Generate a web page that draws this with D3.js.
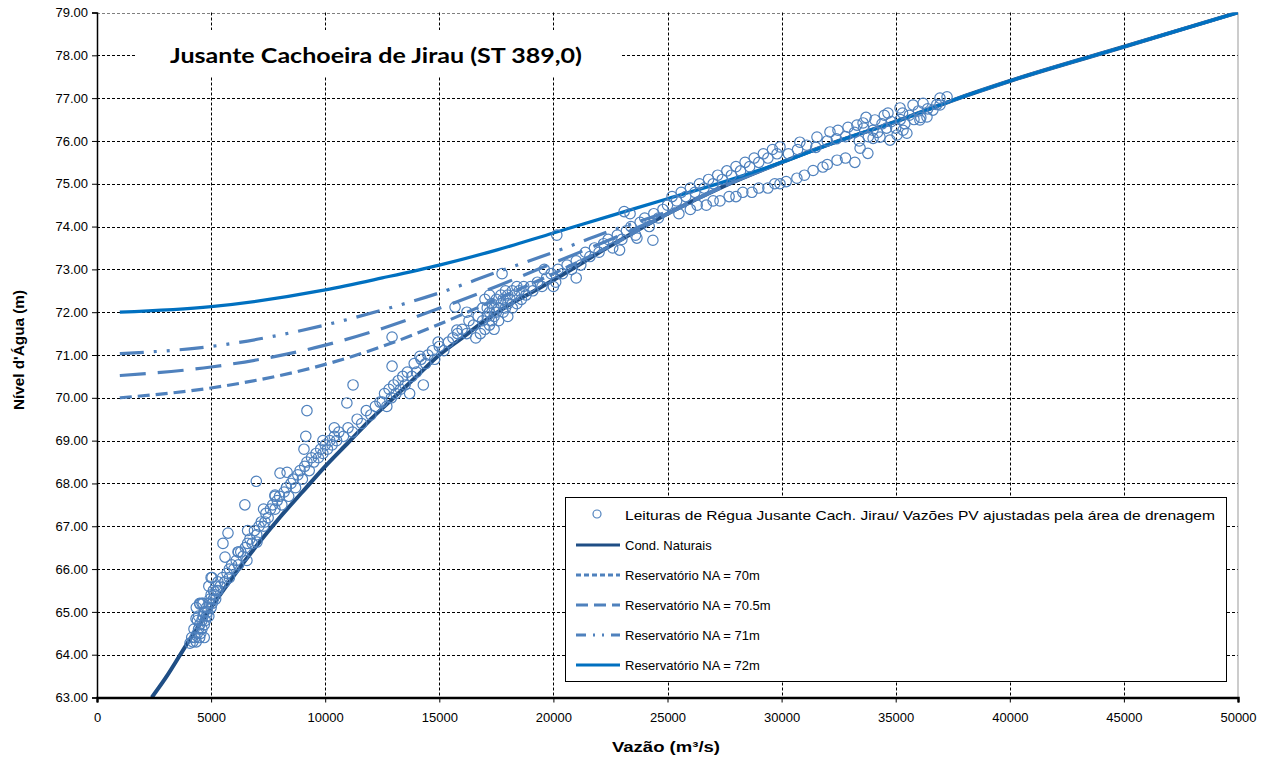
<!DOCTYPE html>
<html>
<head>
<meta charset="utf-8">
<script src="https://cdn.jsdelivr.net/npm/d3@7"></script>
<style>
  html, body { margin: 0; padding: 0; background: #fff; }
  svg { display: block; }
  text { font-family: "Liberation Sans", Arial, sans-serif; }
</style>
</head>
<body>
<svg id="chart" width="1276" height="764"></svg>
<script>
// ---- Data ---------------------------------------------------------------
const xTicks = [0, 5000, 10000, 15000, 20000, 25000, 30000, 35000, 40000, 45000, 50000];
const yTicks = [63, 64, 65, 66, 67, 68, 69, 70, 71, 72, 73, 74, 75, 76, 77, 78, 79];

// Natural stage-discharge curve (vazão m³/s, nível m)
const naturalQ     = [2400, 3000, 4000, 5000, 6000, 7000, 8000, 9000, 10000, 11000, 12000, 13000, 14000, 15000, 16000, 17000, 18000, 19000, 20000, 22500, 25000, 27500, 30000, 32500, 35000, 37500, 40000, 45000, 50000];
const naturalLevel = [63.0, 63.45, 64.3, 65.1, 65.85, 66.55, 67.2, 67.8, 68.4, 68.95, 69.5, 70.0, 70.5, 71.0, 71.4, 71.8, 72.15, 72.45, 72.75, 73.55, 74.3, 74.95, 75.5, 76.0, 76.45, 76.95, 77.4, 78.2, 79.0];

// Backwater curves for each reservoir level, until they join the natural curve
const na70Q      = [1000, 5000, 10000, 12500, 15000, 17500, 20000, 22500];
const na70Level  = [70.0, 70.23, 70.78, 71.2, 71.72, 72.3, 72.9, 73.55];
const na705Q     = [1000, 5000, 10000, 12500, 15000, 17500, 20000, 22500, 25000];
const na705Level = [70.52, 70.72, 71.23, 71.62, 72.09, 72.6, 73.15, 73.7, 74.3];
const na71Q      = [1000, 5000, 10000, 12500, 15000, 17500, 20000, 22500, 25000, 27500];
const na71Level  = [71.03, 71.2, 71.7, 72.05, 72.45, 72.93, 73.4, 73.9, 74.35, 74.95];
const na72Q      = [1000, 5000, 10000, 12500, 15000, 17500, 20000, 22500, 25000, 27500, 30000];
const na72Level  = [72.0, 72.13, 72.52, 72.8, 73.1, 73.45, 73.85, 74.25, 74.65, 75.05, 75.5];

// Gauge readings downstream of Jirau falls [vazão, nível]
const leituras = [
  [4200,64.3],[4300,64.4],[4350,64.3],[4400,64.5],[4450,64.6],[4500,64.4],[4500,64.7],[4550,64.5],[4600,64.8],[4600,64.6],
  [4650,64.9],[4700,64.7],[4700,65.0],[4750,64.8],[4800,65.1],[4800,64.9],[4850,65.0],[4900,65.2],[4900,64.9],[4950,65.3],
  [5000,65.1],[5000,65.4],[5050,65.2],[5100,65.5],[5100,65.3],[5150,65.4],[5200,65.6],[5200,65.3],[5250,65.5],[5300,65.7],
  [4450,64.9],[4350,65.1],[4500,65.2],[4600,65.2],[5000,65.8],[4400,64.8],[4250,64.6],[4150,64.4],[4700,64.4],[4900,65.6],
  [4075,64.27],[4340,64.84],[4510,65.18],[4650,65.2],[5040,65.8],
  [5300,65.5],[5400,65.6],[5500,65.8],[5600,65.7],[5700,65.9],[5800,66.0],[5800,65.8],[5900,66.1],[6000,66.0],[6100,66.2],
  [6200,66.1],[6300,66.4],[6400,66.3],[6500,66.5],[6600,66.6],[6700,66.7],[6800,66.6],[6900,66.9],[7000,66.8],[7100,67.0],
  [7200,67.1],[7300,67.0],[7400,67.3],[7500,67.2],[7600,67.4],[7700,67.5],[7800,67.4],[7900,67.6],[8000,67.7],[8100,67.5],
  [8200,67.8],[8300,67.9],[8400,67.7],[8500,68.0],[8600,68.1],[8700,67.9],[8800,68.2],[8900,68.3],[9000,68.1],[6200,66.4],
  [6600,66.9],[7300,67.4],[7800,67.7],[5610,66.28],[6180,66.4],[5520,66.6],[5740,66.84],[6480,67.5],[6980,68.05],[8020,68.24],
  [8330,68.26],[7800,67.73],[7360,67.1],[7010,66.63],[6570,66.2],
  [9100,68.4],[9200,68.5],[9300,68.3],[9400,68.6],[9500,68.5],[9600,68.7],[9700,68.6],[9800,68.8],[9900,68.7],[10000,68.9],
  [10100,68.8],[10200,69.0],[10300,68.9],[10400,69.1],[10500,69.0],[10600,69.2],[10800,69.1],[11000,69.3],[11200,69.2],[11400,69.5],
  [11600,69.4],[11800,69.7],[12000,69.6],[12200,69.8],[12400,69.9],[9200,69.7],[9070,68.8],[9150,69.1],[10950,69.88],[11220,70.3],
  [9900,69.0],[10400,69.3],
  [12500,69.9],[12600,70.1],[12700,69.8],[12800,70.2],[12900,70.0],[13000,70.3],[13100,70.1],[13200,70.4],[13300,70.2],[13400,70.5],
  [13500,70.3],[13600,70.6],[13800,70.5],[13900,70.8],[14000,70.6],[14200,70.9],[14400,70.8],[14500,71.0],[14700,71.1],[14800,70.9],
  [15000,71.2],[15200,71.1],[15400,71.3],[15600,71.4],[15800,71.5],[16000,71.6],[16200,71.5],[16300,71.8],[16500,71.7],[16700,71.9],
  [16900,71.8],[12930,71.42],[14150,70.97],[12930,70.74],[15690,72.12],[15770,71.58],[16210,72.0],[14950,71.3],[13700,70.1],[14300,70.3],
  [17000,71.6],[17100,71.9],[17100,72.1],[17200,71.7],[17200,72.0],[17300,71.8],[17300,72.2],[17400,71.9],[17400,72.1],[17500,72.0],
  [17500,72.3],[17600,71.8],[17600,72.1],[17700,72.2],[17700,72.4],[17800,72.0],[17800,72.3],[17900,72.1],[17900,72.5],[18000,72.2],
  [18000,72.4],[18100,72.3],[18200,72.1],[18200,72.5],[18300,72.4],[18400,72.2],[18400,72.6],[18500,72.5],[18600,72.3],[18700,72.6],
  [16800,71.5],[16900,72.1],[17000,72.3],[17200,72.4],[16600,71.4],[17750,72.9],[18000,71.9],[17400,71.6],[18800,72.4],[19000,72.6],
  [19100,72.5],[19300,72.7],[19500,72.6],[19700,72.8],[19900,72.9],[20100,72.7],[20200,73.0],[20400,72.9],[20600,73.1],[20800,73.0],
  [21000,73.2],[21200,73.1],[21400,73.4],[21600,73.3],[21800,73.5],[22000,73.4],[22200,73.6],[22400,73.7],[22600,73.5],[22800,73.8],
  [23000,73.7],[23200,73.9],[23400,74.0],[23600,73.8],[23800,74.1],[24000,74.2],[24200,74.0],[24400,74.3],[24600,74.2],[24800,74.4],
  [20150,73.8],[23360,74.3],[24360,73.68],[23660,73.73],[22900,73.45],[21000,72.8],[20000,72.6],[23100,74.35],[19600,73.0],
  [25000,74.5],[25200,74.7],[25400,74.6],[25600,74.8],[25800,74.7],[26000,74.9],[26200,74.8],[26400,75.0],[26600,74.9],[26800,75.1],
  [27000,75.0],[27200,75.2],[27400,75.1],[27600,75.3],[27800,75.2],[28000,75.4],[28200,75.3],[28400,75.5],[28600,75.4],[28800,75.6],
  [29000,75.5],[29200,75.7],[29400,75.6],[29600,75.8],[29800,75.7],
  [25500,74.3],[26000,74.4],[26300,74.5],[26700,74.5],[27000,74.6],[27300,74.6],[27700,74.7],[28000,74.7],[28300,74.8],[28700,74.8],
  [29000,74.9],[29400,74.9],[29700,75.0],
  [29930,75.86],[30800,75.97],[31550,76.09],[32120,76.21],[32470,76.25],[32910,76.32],[33300,76.37],[33570,76.42],[34090,76.49],[34660,76.65],
  [35190,76.77],[35760,76.84],[36200,76.88],[36940,77.0],[37250,77.03],
  [30300,75.7],[30700,75.8],[31100,75.9],[31500,75.85],[32000,76.0],[32400,76.05],[32800,76.1],[33200,76.2],[33600,76.3],[34000,76.25],
  [34400,76.4],[34800,76.45],[35200,76.5],[35600,76.6],[36000,76.7],[36400,76.75],[36800,76.85],[33400,76.0],[33800,76.1],[34200,76.2],
  [34600,76.3],[35000,76.3],[35400,76.4],[35800,76.5],[34500,76.6],[35300,76.65],[36100,76.55],[33700,76.55],
  [29930,75.0],[30670,75.13],[31380,75.31],[31810,75.39],[32430,75.55],[33210,75.5],[33440,75.83],[33780,75.71],[34010,76.06],[34310,76.09],
  [34750,76.02],[35060,76.14],[35320,76.25],[35490,76.18],[36060,76.49],[36370,76.56],[36630,76.72],[36940,76.84],[30200,75.05],[31000,75.2],
  [32000,75.45],[32800,75.6]
];

const legendLabels = [
  "Leituras de Régua  Jusante Cach. Jirau/ Vazões PV ajustadas pela área de drenagem",
  "Cond. Naturais",
  "Reservatório NA = 70m",
  "Reservatório NA = 70.5m",
  "Reservatório NA = 71m",
  "Reservatório NA = 72m"
];

// ---- Layout -------------------------------------------------------------
const svg = d3.select("#chart");
const plot = { left: 97, right: 1238, top: 12.5, bottom: 697.5 };

const x = d3.scaleLinear().domain([0, 50000]).range([plot.left, plot.right]);
const y = d3.scaleLinear().domain([63, 79]).range([plot.bottom, plot.top]);

const cNatural = "#1F4E85";
const cRes = "#4F81BD";
const cRes72 = "#0070C0";

// grid
const grid = svg.append("g");
grid.selectAll("line.h").data(yTicks.filter(v => v > 63)).join("line")
  .attr("x1", plot.left).attr("x2", plot.right)
  .attr("y1", d => Math.round(y(d)) + 0.5).attr("y2", d => Math.round(y(d)) + 0.5)
  .attr("stroke", d => d === 79 ? "#808080" : "#000")
  .attr("stroke-width", 1).attr("stroke-dasharray", "3,2");
grid.selectAll("line.v").data(xTicks.filter(v => v > 0 && v < 50000)).join("line")
  .attr("y1", plot.top).attr("y2", plot.bottom)
  .attr("x1", d => Math.round(x(d)) + 0.5).attr("x2", d => Math.round(x(d)) + 0.5)
  .attr("stroke", "#000").attr("stroke-width", 1).attr("stroke-dasharray", "3,2");
grid.append("line")
  .attr("x1", plot.right).attr("x2", plot.right).attr("y1", plot.top).attr("y2", plot.bottom)
  .attr("stroke", "#999").attr("stroke-width", 1);

// title box
svg.append("rect").attr("x", 135).attr("y", 30).attr("width", 487).attr("height", 47).attr("fill", "#fff");
svg.append("text").attr("x", 376).attr("y", 63)
  .attr("text-anchor", "middle")
  .style("font-family", "Lato, 'Open Sans', sans-serif")
  .style("font-weight", "bold").style("font-size", "21px")
  .attr("textLength", 412).attr("lengthAdjust", "spacingAndGlyphs")
  .text("Jusante Cachoeira de Jirau (ST 389,0)");

// clip
svg.append("clipPath").attr("id", "plotClip").append("rect")
  .attr("x", plot.left).attr("y", plot.top)
  .attr("width", plot.right - plot.left).attr("height", plot.bottom - plot.top);

const line = d3.line().x(d => x(d[0])).y(d => y(d[1])).curve(d3.curveMonotoneX);

const naturalPts = naturalQ.map((q, i) => [q, naturalLevel[i]]);
function withNatural(qs, levels) {
  const pts = qs.map((q, i) => [q, levels[i]]);
  const last = qs[qs.length - 1];
  return pts.concat(naturalPts.filter(p => p[0] > last));
}

const series = [
  { pts: naturalPts, color: cNatural, width: 4, dash: null },
  { pts: withNatural(na70Q, na70Level), color: cRes, width: 3.2, dash: "12,6" },
  { pts: withNatural(na705Q, na705Level), color: cRes, width: 3.2, dash: "26,12" },
  { pts: withNatural(na71Q, na71Level), color: cRes, width: 3.2, dash: "24,10,3,10,3,10" },
  { pts: withNatural(na72Q, na72Level), color: cRes72, width: 3.2, dash: null }
];

const lines = svg.append("g").attr("clip-path", "url(#plotClip)");
lines.selectAll("path").data(series).join("path")
  .attr("d", d => line(d.pts))
  .attr("fill", "none")
  .attr("stroke", d => d.color)
  .attr("stroke-width", d => d.width)
  .attr("stroke-dasharray", d => d.dash)
  .attr("stroke-linecap", "butt");

// readings
svg.append("g").attr("clip-path", "url(#plotClip)")
  .selectAll("circle").data(leituras).join("circle")
  .attr("cx", d => x(d[0])).attr("cy", d => y(d[1])).attr("r", 5.2)
  .attr("fill", "none").attr("stroke", cRes).attr("stroke-width", 1.2);

// axes
const yAxis = d3.axisLeft(y).tickValues(yTicks).tickSize(5).tickFormat(d3.format(".2f"));
const gy = svg.append("g").attr("transform", `translate(${plot.left},0)`).call(yAxis);
gy.attr("font-family", null);
gy.select(".domain").attr("stroke", "#000").attr("stroke-width", 1.5);
gy.selectAll(".tick text").style("font-size", "13px").attr("fill", "#000").attr("x", -9);

const xAxis = d3.axisBottom(x).tickValues(xTicks).tickSize(5).tickFormat(d3.format("d"));
const gx = svg.append("g").attr("transform", `translate(0,${plot.bottom})`).call(xAxis);
gx.attr("font-family", null);
gx.select(".domain").attr("stroke", "#000").attr("stroke-width", 2.5);
gx.selectAll(".tick text").style("font-size", "13px").attr("fill", "#000").attr("y", 15);

// axis titles
svg.append("text").attr("transform", "translate(24,350) rotate(-90)")
  .attr("text-anchor", "middle").style("font-weight", "bold").style("font-size", "14px")
  .attr("textLength", 120).attr("lengthAdjust", "spacingAndGlyphs")
  .text("Nível d'Água (m)");
svg.append("text").attr("x", 666).attr("y", 752)
  .attr("text-anchor", "middle").style("font-weight", "bold").style("font-size", "14px")
  .attr("textLength", 108).attr("lengthAdjust", "spacingAndGlyphs")
  .text("Vazão (m³/s)");

// legend
const lg = svg.append("g");
lg.append("rect").attr("x", 565.5).attr("y", 497.5).attr("width", 661).attr("height", 184)
  .attr("fill", "#fff").attr("stroke", "#000").attr("stroke-width", 1);
const legendKeys = [
  { type: "circle" },
  { color: cNatural, width: 3, dash: null },
  { color: cRes, width: 3, dash: "5,3" },
  { color: cRes, width: 3, dash: "12,6" },
  { color: cRes, width: 3, dash: "10,7,2,7,2,7" },
  { color: cRes72, width: 3, dash: null }
];
legendLabels.forEach((label, i) => {
  const cy = 515 + i * 30;
  const k = legendKeys[i];
  if (k.type === "circle") {
    lg.append("circle").attr("cx", 597).attr("cy", cy - 1).attr("r", 4)
      .attr("fill", "none").attr("stroke", cRes).attr("stroke-width", 1.2);
  } else {
    lg.append("line").attr("x1", 576).attr("x2", 620).attr("y1", cy).attr("y2", cy)
      .attr("stroke", k.color).attr("stroke-width", k.width).attr("stroke-dasharray", k.dash);
  }
  const t = lg.append("text").attr("x", 625).attr("y", cy + 4.5).style("font-size", "13px")
    .attr("fill", "#000").text(label);
  if (i === 0) t.attr("textLength", 590).attr("lengthAdjust", "spacingAndGlyphs");
});
</script>
</body>
</html>
